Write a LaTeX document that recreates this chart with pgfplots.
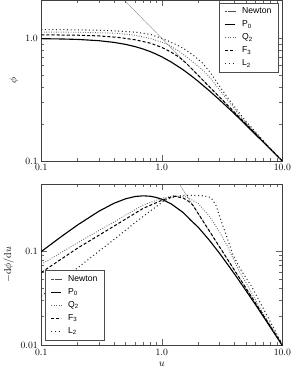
\documentclass[border=0pt]{standalone}
\usepackage{pgfplots}
\pgfplotsset{compat=1.18}
\usepackage{fontspec}
\newfontfamily\legfont{Liberation Sans}
\tikzset{
  newt/.style={black!70, line width=0.35pt, dash pattern=on 0.6pt off 0.5pt},
  pzero/.style={black, line width=1.1pt},
  qtwo/.style={black!60, line width=0.9pt, dash pattern=on 0.8pt off 1.6pt},
  fthree/.style={black, line width=1.0pt, dash pattern=on 3pt off 2pt},
  ltwo/.style={black!85, line width=1.0pt, dash pattern=on 1pt off 2.6pt},
}
\begin{document}
\begin{tikzpicture}
\begin{axis}[xmode=log, ymode=log, scale only axis, width=237pt, height=158pt,
    xmin=0.1, xmax=10,
    xtick={0.1,1,10}, xticklabels={0.1,1.0,10.0},
    axis line style={black!75},
    every tick/.style={black!60},
    major tick length=6pt, minor tick length=3pt,
    tick label style={font=\fontsize{9.5}{11}\selectfont},
    label style={font=\fontsize{10}{12}\selectfont},
    legend style={font=\legfont\fontsize{8.5}{10}\selectfont, draw=black!70, row sep=1.4pt, inner xsep=5pt, inner ysep=3pt, at={(0.985,0.985)}, anchor=north east, /tikz/every odd column/.append style={column sep=4pt}},
    legend cell align=left,
    legend image code/.code={\draw[#1] (0pt,0pt) -- (10pt,0pt);},
  at={(0,0)}, anchor=north west,
  ymin=0.1, ymax=2.05, ytick={0.1,1}, yticklabels={0.1,1.0},
  ylabel={$\phi$}]
\addplot[newt] coordinates {(0.45,2.2222) (10,0.1)};
\addplot[pzero] coordinates {(0.1,0.995) (0.15,0.989) (0.2,0.981) (0.3,0.958) (0.4,0.928) (0.5,0.894) (0.6,0.857) (0.7,0.819) (0.8,0.781) (0.9,0.743) (1.0,0.707) (1.2,0.640) (1.5,0.555) (1.75,0.496) (2,0.447) (2.5,0.371) (3,0.316) (4,0.243) (5,0.196) (6,0.164) (7,0.141) (8,0.124) (10,0.0995)};
\addplot[qtwo] coordinates {(0.1,1.127) (0.2,1.122) (0.3,1.112) (0.43,1.10) (0.6,1.06) (0.8,1.0) (1.0,0.93) (1.135,0.885) (1.35,0.80) (1.57,0.72) (1.85,0.63) (2.17,0.555) (2.55,0.47) (3.0,0.38) (3.5,0.315) (4.15,0.255) (5,0.205) (6,0.169) (7,0.143) (8,0.125) (10,0.1)};
\addplot[fthree] coordinates {(0.1,1.07) (0.2,1.062) (0.3,1.048) (0.43,1.02) (0.6,0.975) (0.8,0.915) (1.0,0.845) (1.2,0.77) (1.4,0.70) (1.6,0.625) (1.8,0.556) (2,0.5) (3,0.3333) (5,0.2) (10,0.1)};
\addplot[ltwo] coordinates {(0.1,1.18) (0.2,1.175) (0.3,1.165) (0.43,1.15) (0.6,1.125) (0.8,1.08) (1.0,1.0) (1.135,0.95) (1.35,0.88) (1.57,0.81) (1.85,0.72) (2.17,0.63) (2.55,0.52) (3.0,0.41) (3.5,0.33) (4.15,0.265) (5,0.21) (6,0.172) (7,0.145) (8,0.125) (10,0.1)};
\legend{Newton,P\textsubscript{0},Q\textsubscript{2},F\textsubscript{3},L\textsubscript{2}}
\end{axis}
\begin{axis}[xmode=log, ymode=log, scale only axis, width=237pt, height=158pt,
    xmin=0.1, xmax=10,
    xtick={0.1,1,10}, xticklabels={0.1,1.0,10.0},
    axis line style={black!75},
    every tick/.style={black!60},
    major tick length=6pt, minor tick length=3pt,
    tick label style={font=\fontsize{9.5}{11}\selectfont},
    label style={font=\fontsize{10}{12}\selectfont},
    legend style={font=\legfont\fontsize{8.5}{10}\selectfont, draw=black!70, row sep=1.4pt, inner xsep=5pt, inner ysep=3pt, at={(0.017,0.03)}, anchor=south west, /tikz/every odd column/.append style={column sep=4pt}},
    legend cell align=left,
    legend image code/.code={\draw[#1] (0pt,0pt) -- (10pt,0pt);},
  at={(0,-181pt)}, anchor=north west,
  ymin=0.01, ymax=0.51, ytick={0.01,0.1}, yticklabels={0.01,0.1},
  ylabel={$-\mathrm{d}\phi/\mathrm{d}u$}, xlabel={$u$}]
\addplot[newt] coordinates {(1.40,0.5102) (10,0.01)};
\addplot[pzero] coordinates {(0.1,0.0985) (0.15,0.1451) (0.2,0.1886) (0.3,0.2636) (0.4,0.3202) (0.5,0.3578) (0.6,0.3783) (0.7,0.3849) (0.8,0.3809) (0.9,0.3698) (1.0,0.3536) (1.2,0.3149) (1.5,0.2560) (1.75,0.2099) (2,0.1789) (2.5,0.1281) (3,0.0949) (4,0.0571) (5,0.0377) (6,0.0267) (7,0.0198) (8,0.01527) (10,0.00985)};
\addplot[qtwo] coordinates {(0.1,0.072) (0.15,0.098) (0.2,0.122) (0.3,0.165) (0.4,0.202) (0.5,0.24) (0.7,0.307) (1.0,0.362) (1.25,0.385) (1.6,0.375) (2.0,0.32) (2.5,0.23) (3.0,0.16) (3.5,0.112) (4.27,0.065) (5.55,0.036) (7,0.021) (10,0.0101)};
\addplot[fthree] coordinates {(0.1,0.059) (0.2,0.107) (0.4,0.183) (0.7,0.283) (1.0,0.345) (1.25,0.382) (1.5,0.365) (1.65,0.34) (1.8,0.309) (2,0.25) (3,0.1111) (5,0.04) (10,0.01)};
\addplot[ltwo] coordinates {(0.1,0.033) (0.163,0.054) (0.2,0.066) (0.3,0.099) (0.4,0.132) (0.6,0.2) (0.8,0.265) (1.06,0.345) (1.3,0.378) (1.52,0.39) (1.85,0.39) (2.2,0.385) (2.55,0.37) (2.8,0.31) (3.1,0.21) (3.4,0.15) (3.88,0.092) (4.42,0.066) (5.55,0.042) (7,0.024) (10,0.0101)};
\legend{Newton,P\textsubscript{0},Q\textsubscript{2},F\textsubscript{3},L\textsubscript{2}}
\end{axis}
\end{tikzpicture}
\end{document}
